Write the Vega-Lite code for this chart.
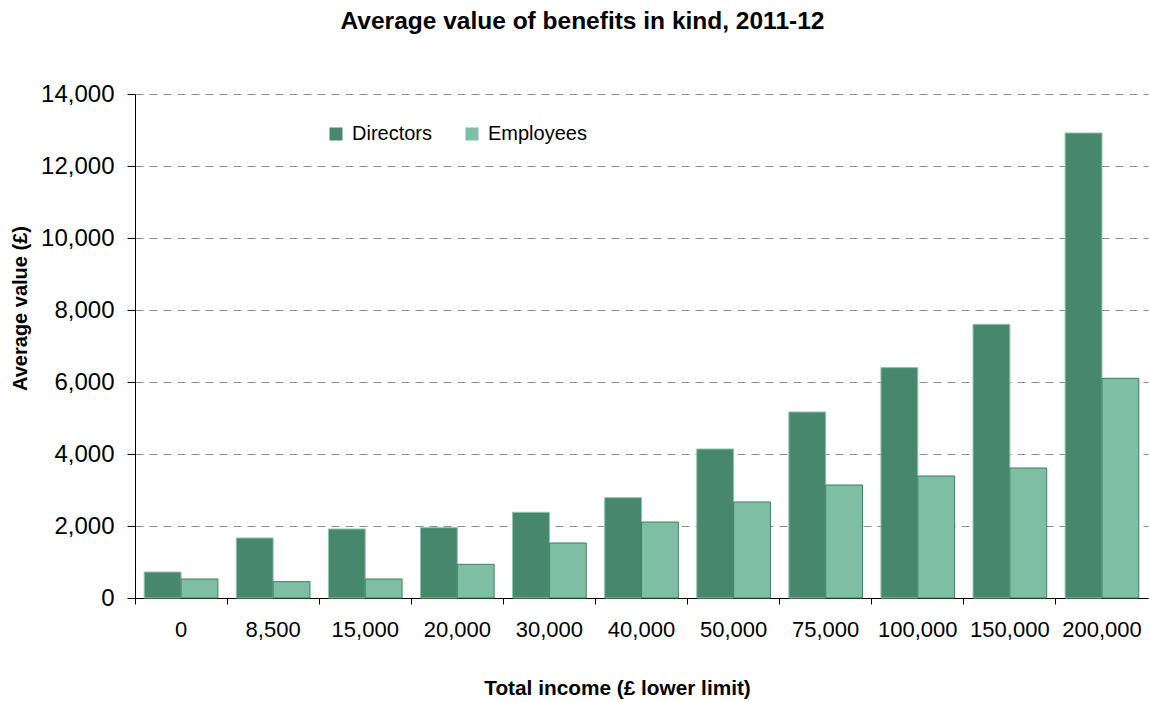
{
  "$schema": "https://vega.github.io/schema/vega-lite/v6.json",
  "width": 1013,
  "height": 504,
  "autosize": {"type": "none"},
  "padding": {"left": 135, "top": 94, "right": 2, "bottom": 104},
  "background": "white",
  "config": {
    "font": "Liberation Sans",
    "view": {"stroke": null}
  },
  "title": {
    "text": "Average value of benefits in kind, 2011-12",
    "font": "Liberation Sans",
    "fontSize": 24.5,
    "fontWeight": "bold",
    "color": "#000000",
    "anchor": "middle",
    "frame": "group",
    "dx": -59,
    "offset": 48
  },
  "data": {
    "values": [
      {"income": "0", "group": "Directors", "value": 722},
      {"income": "0", "group": "Employees", "value": 528},
      {"income": "8,500", "group": "Directors", "value": 1667},
      {"income": "8,500", "group": "Employees", "value": 454},
      {"income": "15,000", "group": "Directors", "value": 1917},
      {"income": "15,000", "group": "Employees", "value": 528},
      {"income": "20,000", "group": "Directors", "value": 1954},
      {"income": "20,000", "group": "Employees", "value": 935},
      {"income": "30,000", "group": "Directors", "value": 2380},
      {"income": "30,000", "group": "Employees", "value": 1528},
      {"income": "40,000", "group": "Directors", "value": 2787},
      {"income": "40,000", "group": "Employees", "value": 2111},
      {"income": "50,000", "group": "Directors", "value": 4139},
      {"income": "50,000", "group": "Employees", "value": 2667},
      {"income": "75,000", "group": "Directors", "value": 5167},
      {"income": "75,000", "group": "Employees", "value": 3139},
      {"income": "100,000", "group": "Directors", "value": 6400},
      {"income": "100,000", "group": "Employees", "value": 3389},
      {"income": "150,000", "group": "Directors", "value": 7602},
      {"income": "150,000", "group": "Employees", "value": 3611},
      {"income": "200,000", "group": "Directors", "value": 12917},
      {"income": "200,000", "group": "Employees", "value": 6102}
    ]
  },
  "mark": {"type": "bar", "strokeWidth": 1},
  "encoding": {
    "x": {
      "field": "income",
      "type": "nominal",
      "sort": null,
      "scale": {"paddingInner": 0, "paddingOuter": 0},
      "axis": {
        "title": "Total income (£ lower limit)",
        "titleFont": "Liberation Sans",
        "titleFontSize": 20.8,
        "titleFontWeight": "bold",
        "titleColor": "#000000",
        "titleX": 482,
        "titleY": 90,
        "titleBaseline": "middle",
        "titleAnchor": "middle",
        "labelAngle": 0,
        "labelFontSize": 22,
        "labelColor": "#000000",
        "labelBaseline": "top",
        "labelPadding": 15,
        "tickSize": 6,
        "tickColor": "#000000",
        "domainColor": "#000000",
        "bandPosition": 0,
        "grid": false
      }
    },
    "xOffset": {
      "field": "group",
      "type": "nominal",
      "scale": {"paddingInner": 0, "paddingOuter": 0.25}
    },
    "y": {
      "field": "value",
      "type": "quantitative",
      "scale": {"domain": [0, 14000], "nice": false},
      "axis": {
        "title": "Average value (£)",
        "titleFont": "Liberation Sans",
        "titleFontSize": 20,
        "titleFontWeight": "bold",
        "titleColor": "#000000",
        "titleX": -115,
        "titleY": 214,
        "titleAngle": -90,
        "titleBaseline": "middle",
        "titleAnchor": "middle",
        "values": [0, 2000, 4000, 6000, 8000, 10000, 12000, 14000],
        "format": ",d",
        "labelFontSize": 24,
        "labelColor": "#000000",
        "labelPadding": 13,
        "tickSize": 8,
        "tickColor": "#000000",
        "domainColor": "#000000",
        "grid": true,
        "gridColor": "#8c8c8c",
        "gridDash": [8, 6],
        "gridWidth": 1
      }
    },
    "color": {
      "field": "group",
      "type": "nominal",
      "scale": {"domain": ["Directors", "Employees"], "range": ["#46876e", "#7dbea5"]},
      "legend": {
        "title": null,
        "orient": "none",
        "legendX": 191,
        "legendY": 30,
        "direction": "horizontal",
        "symbolType": "square",
        "symbolSize": 169,
        "symbolStrokeWidth": 0,
        "labelFontSize": 20,
        "labelColor": "#000000",
        "labelOffset": 6,
        "columnPadding": 29
      }
    },
    "stroke": {
      "field": "group",
      "type": "nominal",
      "scale": {"domain": ["Directors", "Employees"], "range": ["#8fc4ad", "#3d8163"]},
      "legend": null
    }
  }
}
